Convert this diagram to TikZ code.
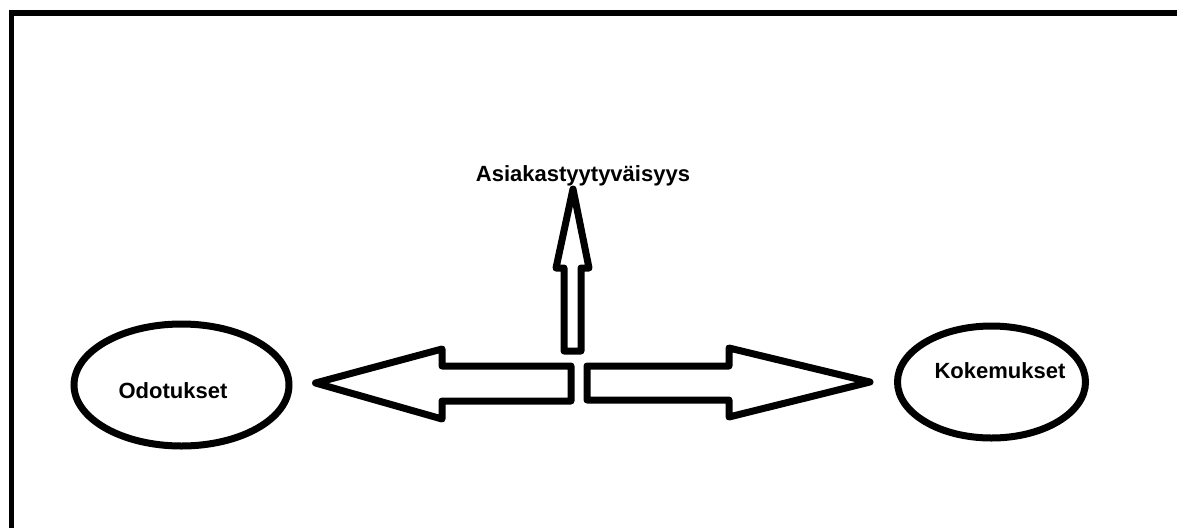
\documentclass[tikz,border=0pt]{standalone}
\usepackage{fontspec}
\setmainfont{Liberation Sans}
\usetikzlibrary{shapes.geometric,positioning}

\begin{document}
\begin{tikzpicture}[
    x=1pt, y=-1pt,
    font=\fontsize{22}{26}\selectfont\bfseries,
    ell/.style={draw, line width=7pt, ellipse, inner sep=0pt},
    blk/.style={draw, line width=7pt, line join=round},
    lbl/.style={anchor=base, inner sep=0pt},
  ]
    \useasboundingbox (0,0) rectangle (1177,528);
    % frame
    \draw[line width=5.5pt] (11.5,528) -- (11.5,13) -- (1177,13);

    \node[ell, minimum width=215pt, minimum height=122pt] (odo) at (181.5,385) {};
    \node[ell, minimum width=188pt, minimum height=112pt] (kok) at (991.5,382) {};

    \node[lbl] (odot) at (173,398) {Odotukset};
    \node[lbl] (koket) at (1000,378) {Kokemukset};
    \node[lbl] (asia) at (583,181) {Asiakastyytyväisyys};

    % block arrows
    \draw[blk] (571,366) -- (442,366) -- (442,349) -- (315.5,383) -- (442,419) -- (442,401) -- (571,401) -- cycle;
    \draw[blk] (587,366) -- (729,366) -- (729,348) -- (870,382) -- (729,417) -- (729,400) -- (587,400) -- cycle;
    \draw[blk] (564,351) -- (564,268) -- (556,268) -- (573,189) -- (589,268) -- (581,268) -- (581,351) -- cycle;
  \end{tikzpicture}
\end{document}
